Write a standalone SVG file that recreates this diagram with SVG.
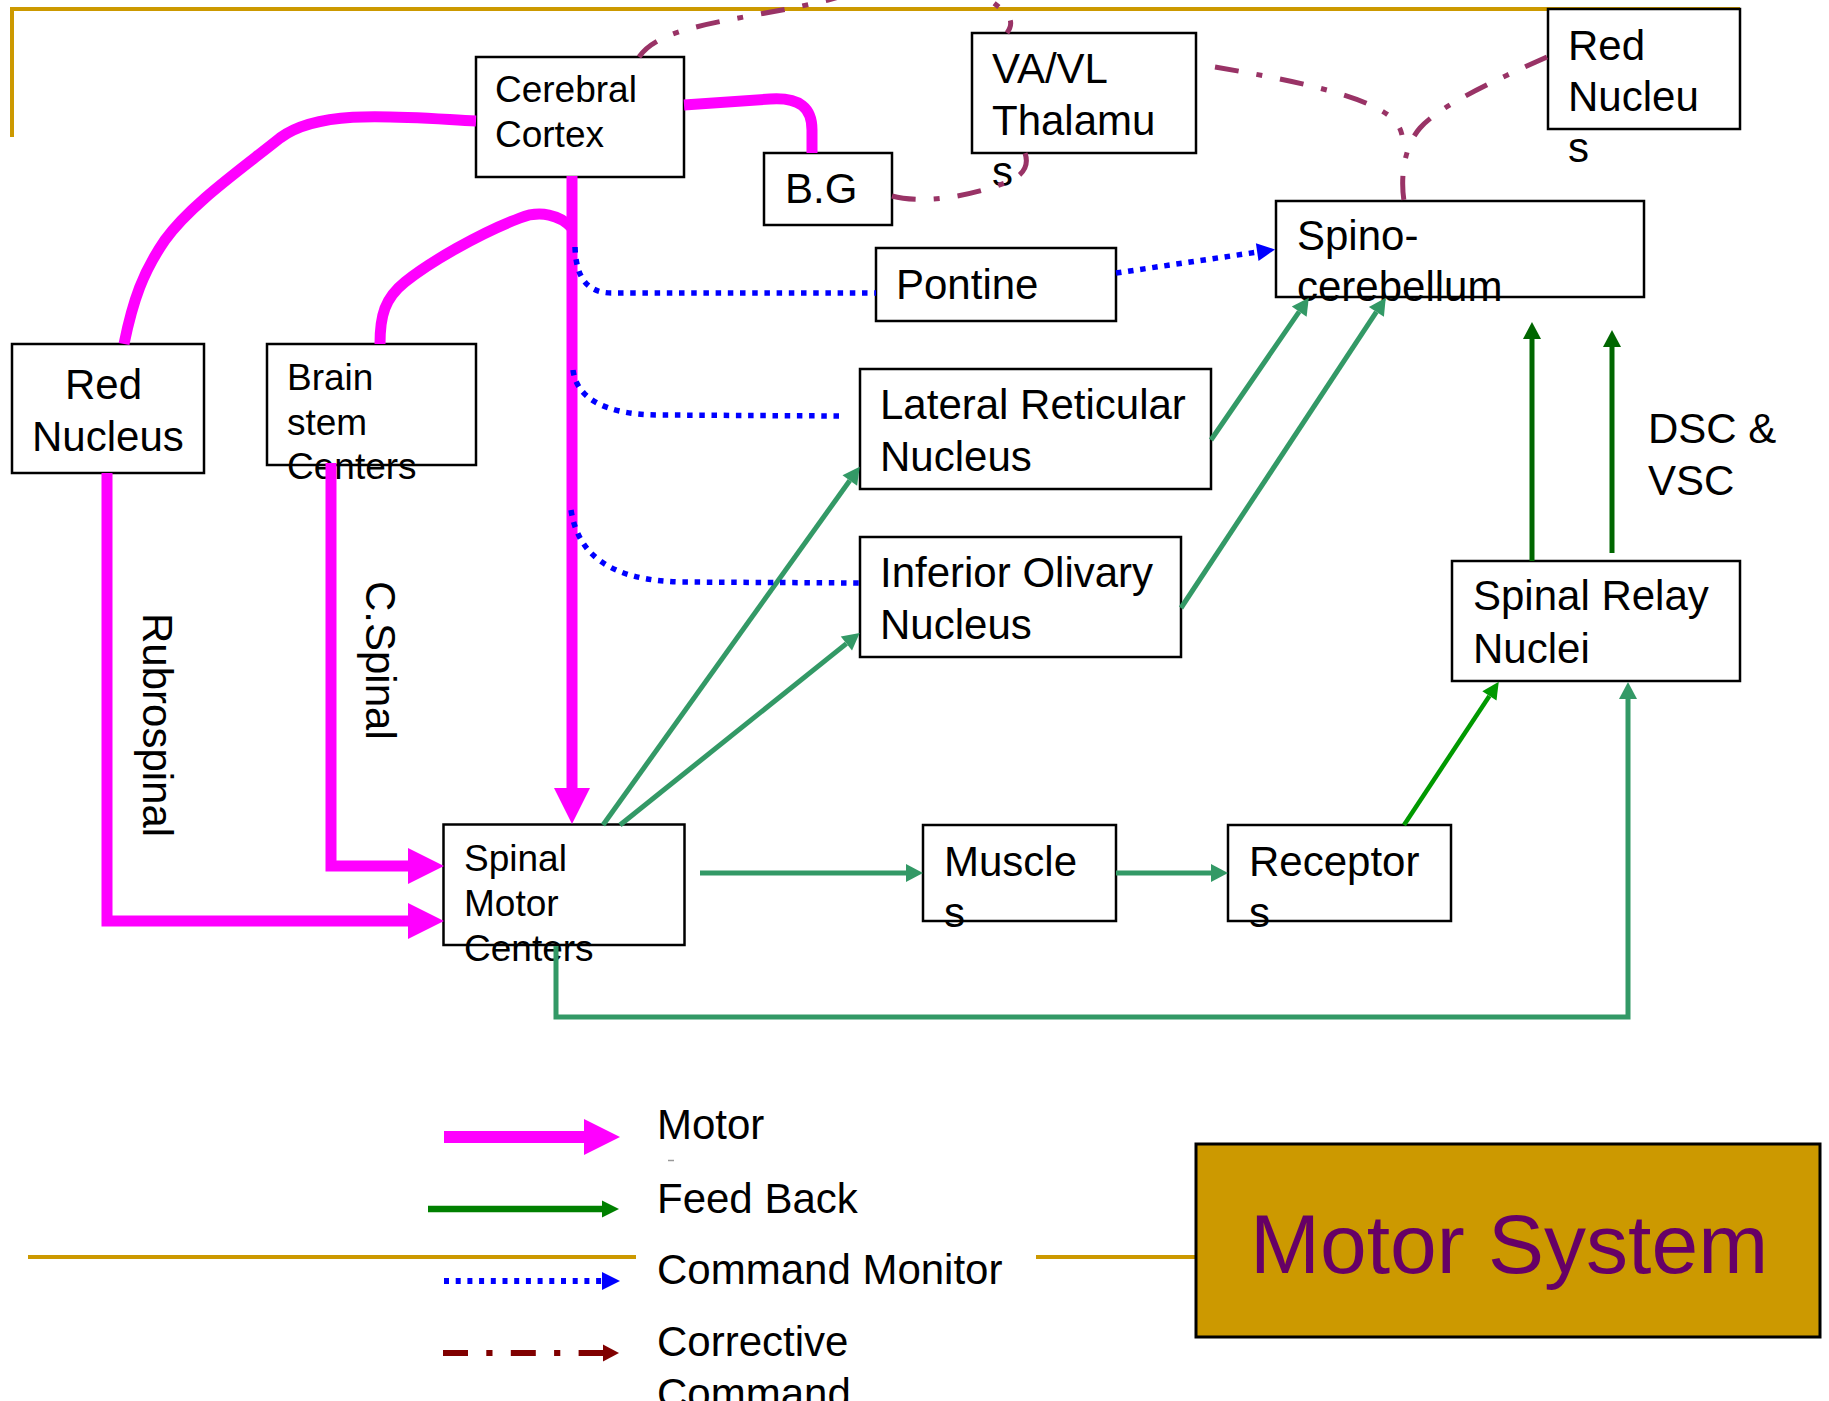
<svg xmlns="http://www.w3.org/2000/svg" width="1829" height="1401" viewBox="0 0 1829 1401">
  <style>
    .box { fill: #ffffff; stroke: #000000; stroke-width: 2.5; }
    .t { font-family: "Liberation Sans", Arial, sans-serif; fill: #000000; }
    .s42 { font-size: 42px; }
    .s37 { font-size: 37px; }
    .gold { fill: none; stroke: #CC9900; stroke-width: 4; }
    .motor { fill: none; stroke: #FF00FF; stroke-width: 11; stroke-linejoin: miter; }
    .fb { fill: none; stroke: #339966; stroke-width: 5; }
    .fb-bright { fill: none; stroke: #009900; stroke-width: 4.5; }
    .fb-dark { fill: none; stroke: #006600; stroke-width: 5; }
    .cm { fill: none; stroke: #0000FF; stroke-width: 5.5; stroke-dasharray: 5.5 6.7; }
    .cc { fill: none; stroke: #993366; stroke-width: 5; stroke-dasharray: 24 18 6 18; }
  </style>
  <defs>
    <marker id="hMotor" markerUnits="userSpaceOnUse" markerWidth="36" markerHeight="36" refX="0" refY="18" orient="auto" overflow="visible">
      <path d="M0,0 L36,18 L0,36 z" fill="#FF00FF"/>
    </marker>
    <marker id="hFb" markerUnits="userSpaceOnUse" markerWidth="17" markerHeight="18" refX="0" refY="9" orient="auto" overflow="visible">
      <path d="M0,0 L17,9 L0,18 z" fill="#339966"/>
    </marker>
    <marker id="hFbBright" markerUnits="userSpaceOnUse" markerWidth="17" markerHeight="17" refX="0" refY="8.5" orient="auto" overflow="visible">
      <path d="M0,0 L17,8.5 L0,17 z" fill="#009900"/>
    </marker>
    <marker id="hFbDark" markerUnits="userSpaceOnUse" markerWidth="17" markerHeight="18" refX="0" refY="9" orient="auto" overflow="visible">
      <path d="M0,0 L17,9 L0,18 z" fill="#006600"/>
    </marker>
    <marker id="hCm" markerUnits="userSpaceOnUse" markerWidth="18" markerHeight="18" refX="0" refY="9" orient="auto" overflow="visible">
      <path d="M0,0 L18,9 L0,18 z" fill="#0000FF"/>
    </marker>
    <marker id="hLegFb" markerUnits="userSpaceOnUse" markerWidth="17" markerHeight="17" refX="0" refY="8.5" orient="auto" overflow="visible">
      <path d="M0,0 L17,8.5 L0,17 z" fill="#008000"/>
    </marker>
    <marker id="hLegCc" markerUnits="userSpaceOnUse" markerWidth="16" markerHeight="17" refX="0" refY="8.5" orient="auto" overflow="visible">
      <path d="M0,0 L16,8.5 L0,17 z" fill="#800000"/>
    </marker>
  </defs>

  <rect x="0" y="0" width="1829" height="1401" fill="#ffffff"/>

  <!-- slide frame rules -->
  <g id="frame">
    <path class="gold" d="M12,137 L12,9 L1740,9"/>
    <path class="gold" d="M28,1257 L636,1257"/>
    <path class="gold" d="M1036,1257 L1196,1257"/>
  </g>

  <!-- nodes -->
  <g id="cerebral-cortex">
    <rect class="box" x="476" y="57" width="208" height="120"/>
    <text class="t s37"><tspan x="495" y="102">Cerebral</tspan><tspan x="495" y="147">Cortex</tspan></text>
  </g>
  <g id="basal-ganglia">
    <rect class="box" x="764" y="153" width="128" height="72"/>
    <text class="t s42" x="785" y="203">B.G</text>
  </g>
  <g id="va-vl-thalamus">
    <rect class="box" x="972" y="33" width="224" height="120"/>
    <text class="t s42"><tspan x="992" y="83">VA/VL</tspan><tspan x="992" y="135">Thalamu</tspan><tspan x="992" y="186">s</tspan></text>
  </g>
  <g id="red-nucleus-upper">
    <rect class="box" x="1548" y="9" width="192" height="120"/>
    <text class="t s42"><tspan x="1568" y="60">Red</tspan><tspan x="1568" y="111">Nucleu</tspan><tspan x="1568" y="162">s</tspan></text>
  </g>
  <g id="spinocerebellum">
    <rect class="box" x="1276" y="201" width="368" height="96"/>
    <text class="t s42"><tspan x="1297" y="250">Spino-</tspan><tspan x="1297" y="301">cerebellum</tspan></text>
  </g>
  <g id="pontine">
    <rect class="box" x="876" y="248" width="240" height="73"/>
    <text class="t s42" x="896" y="299">Pontine</text>
  </g>
  <g id="red-nucleus">
    <rect class="box" x="12" y="344" width="192" height="129"/>
    <text class="t s42"><tspan x="65" y="399">Red</tspan><tspan x="32" y="451">Nucleus</tspan></text>
  </g>
  <g id="brain-stem-centers">
    <rect class="box" x="267" y="344" width="209" height="121"/>
    <text class="t s37"><tspan x="287" y="390">Brain</tspan><tspan x="287" y="435">stem</tspan><tspan x="287" y="479">Centers</tspan></text>
  </g>
  <g id="lateral-reticular-nucleus">
    <rect class="box" x="860" y="369" width="351" height="120"/>
    <text class="t s42"><tspan x="880" y="419">Lateral Reticular</tspan><tspan x="880" y="471">Nucleus</tspan></text>
  </g>
  <g id="inferior-olivary-nucleus">
    <rect class="box" x="860" y="537" width="321" height="120"/>
    <text class="t s42"><tspan x="880" y="587">Inferior Olivary</tspan><tspan x="880" y="639">Nucleus</tspan></text>
  </g>
  <g id="spinal-relay-nuclei">
    <rect class="box" x="1452" y="561" width="288" height="120"/>
    <text class="t s42"><tspan x="1473" y="610">Spinal Relay</tspan><tspan x="1473" y="663">Nuclei</tspan></text>
  </g>
  <g id="spinal-motor-centers">
    <rect class="box" x="443.5" y="824.5" width="241" height="120.5"/>
    <text class="t s37"><tspan x="464" y="871">Spinal</tspan><tspan x="464" y="916">Motor</tspan><tspan x="464" y="961">Centers</tspan></text>
  </g>
  <g id="muscles">
    <rect class="box" x="923" y="825" width="193" height="96"/>
    <text class="t s42"><tspan x="944" y="876">Muscle</tspan><tspan x="944" y="927">s</tspan></text>
  </g>
  <g id="receptors">
    <rect class="box" x="1228" y="825" width="223" height="96"/>
    <text class="t s42"><tspan x="1249" y="876">Receptor</tspan><tspan x="1249" y="927">s</tspan></text>
  </g>

  <!-- connectors -->
  <g id="connectors">
    <!-- motor pathways -->
    <path class="motor" d="M476,121 C 400,117 320,108 280,138 C 240,170 190,205 165,240 C 143,272 133,300 124,344"/>
    <path class="motor" d="M684,105 L770,99 C 800,97 812,108 812,130 L812,153"/>
    <path class="motor" d="M572,228 C 560,215 540,210 520,218 C 480,233 430,262 405,282 C 385,298 380,315 380,344"/>
    <path class="motor" d="M572,176 L572,788" marker-end="url(#hMotor)"/>
    <path class="motor" d="M331,463 L331,866 L408,866" marker-end="url(#hMotor)"/>
    <path class="motor" d="M107,473 L107,921 L408,921" marker-end="url(#hMotor)"/>

    <!-- feedback pathways -->
    <path class="fb" d="M700,873 L906,873" marker-end="url(#hFb)"/>
    <path class="fb" d="M1116,873 L1211,873" marker-end="url(#hFb)"/>
    <path class="fb" d="M556,946 L556,1017 L1628,1017 L1628,699" marker-end="url(#hFb)"/>
    <path class="fb" d="M603,825 L849.8,480.5" marker-end="url(#hFb)"/>
    <path class="fb" d="M620,825 L846.4,643.6" marker-end="url(#hFb)"/>
    <path class="fb" d="M1211,440 L1299.2,311.7" marker-end="url(#hFb)"/>
    <path class="fb" d="M1181,608 L1376.4,311.9" marker-end="url(#hFb)"/>
    <path class="fb-bright" d="M1404,825 L1489.4,695.9" marker-end="url(#hFbBright)"/>
    <path class="fb-dark" d="M1532,561 L1532,339" marker-end="url(#hFbDark)"/>
    <path class="fb-dark" d="M1612,553 L1612,347" marker-end="url(#hFbDark)"/>

    <!-- command monitor -->
    <path class="cm" d="M575,247 C 576,275 585,293 612,293 L876,293"/>
    <path class="cm" d="M1116,273 L1257.2,252.1" marker-end="url(#hCm)"/>
    <path class="cm" d="M573,370 C 576,395 600,415 660,415 L839,416"/>
    <path class="cm" d="M571,510 C 578,555 610,580 680,582 L860,583"/>

    <!-- corrective command -->
    <path class="cc" d="M639,57 C 655,33 700,25 760,14 C 800,7 815,3 828,0 C 880,-15 960,-25 990,0 C 1008,14 1016,20 1007,33"/>
    <path class="cc" d="M892,196 C 925,205 975,195 1010,181 C 1028,172 1028,162 1025,153"/>
    <path class="cc" d="M1215,67 C 1280,78 1350,92 1380,110 C 1395,118 1400,126 1402,135"/>
    <path class="cc" d="M1547,57 C 1500,78 1440,105 1420,128 C 1405,145 1400,175 1404,201"/>
  </g>

  <!-- pathway labels -->
  <g id="pathway-labels">
    <text class="t s42" transform="translate(143,613) rotate(90)">Rubrospinal</text>
    <text class="t s42" transform="translate(366,581) rotate(90)">C.Spinal</text>
    <text class="t s42"><tspan x="1648" y="443">DSC &amp;</tspan><tspan x="1648" y="495">VSC</tspan></text>
  </g>

  <!-- legend -->
  <g id="legend">
    <path d="M444,1137 L584,1137" fill="none" stroke="#FF00FF" stroke-width="12" marker-end="url(#hMotor)"/>
    <path d="M428,1209 L602,1209" fill="none" stroke="#008000" stroke-width="6.5" marker-end="url(#hLegFb)"/>
    <path d="M444,1281 L602,1281" fill="none" stroke="#0000FF" stroke-width="6" stroke-dasharray="5 6.7" marker-end="url(#hCm)"/>
    <path d="M443,1353 L603,1353" fill="none" stroke="#800000" stroke-width="6" stroke-dasharray="25 18.3 6.2 18.3" marker-end="url(#hLegCc)"/>
    <line x1="668" y1="1160.5" x2="674" y2="1160.5" stroke="#999999" stroke-width="1.5"/>
    <text class="t s42" x="657" y="1139">Motor</text>
    <text class="t s42" x="657" y="1213">Feed Back</text>
    <text class="t s42" x="657" y="1284">Command Monitor</text>
    <text class="t s42"><tspan x="657" y="1356">Corrective</tspan><tspan x="657" y="1408">Command</tspan></text>
  </g>

  <!-- title block -->
  <g id="title">
    <rect x="1196" y="1144" width="624" height="193" fill="#CC9900" stroke="#000000" stroke-width="3"/>
    <text x="1250" y="1273" font-family="'Liberation Sans', Arial, sans-serif" font-size="84" fill="#660066">Motor System</text>
  </g>
</svg>
